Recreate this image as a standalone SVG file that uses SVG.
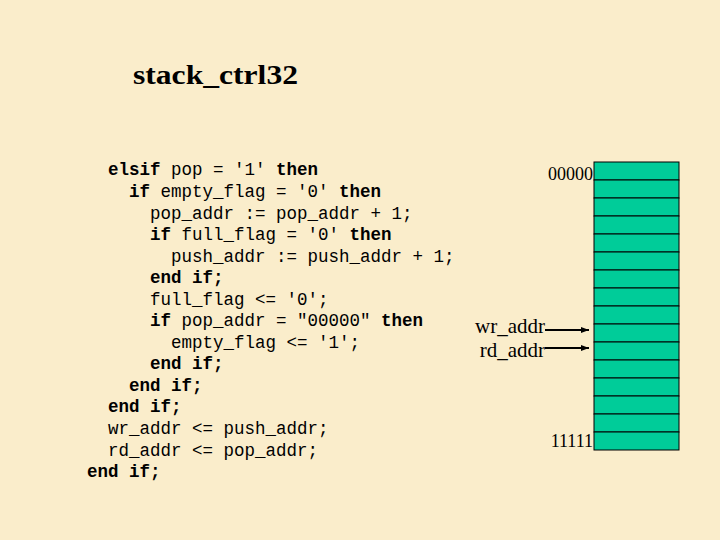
<svg xmlns="http://www.w3.org/2000/svg" width="720" height="540" viewBox="0 0 720 540">
<style>
.c{font-family:"Courier New","Liberation Mono",monospace;font-size:17.5px;fill:#000}
.s{font-family:"Liberation Serif",serif;fill:#000}
.cell{fill:#00CC99;stroke:#000;stroke-width:1}
</style>
<defs><marker id="ah" markerWidth="8" markerHeight="6" refX="8" refY="3" orient="auto" markerUnits="userSpaceOnUse"><path d="M0,0L8,3L0,6z" fill="#000"/></marker></defs>
<rect width="720" height="540" fill="#FAEDCB"/>
<text class="s" x="133" y="84" font-size="28" font-weight="bold" textLength="165" lengthAdjust="spacingAndGlyphs">stack_ctrl32</text>
<g id="code">
<text class="c" x="108" y="175"><tspan font-weight="bold">elsif</tspan> pop = '1' <tspan font-weight="bold">then</tspan></text>
<text class="c" x="129" y="197"><tspan font-weight="bold">if</tspan> empty_flag = '0' <tspan font-weight="bold">then</tspan></text>
<text class="c" x="150" y="219">pop_addr := pop_addr + 1;</text>
<text class="c" x="150" y="240"><tspan font-weight="bold">if</tspan> full_flag = '0' <tspan font-weight="bold">then</tspan></text>
<text class="c" x="171" y="262">push_addr := push_addr + 1;</text>
<text class="c" x="150" y="283" font-weight="bold">end if;</text>
<text class="c" x="150" y="305">full_flag &lt;= '0';</text>
<text class="c" x="150" y="326"><tspan font-weight="bold">if</tspan> pop_addr = "00000" <tspan font-weight="bold">then</tspan></text>
<text class="c" x="171" y="348">empty_flag &lt;= '1';</text>
<text class="c" x="150" y="369" font-weight="bold">end if;</text>
<text class="c" x="129" y="391" font-weight="bold">end if;</text>
<text class="c" x="108" y="412" font-weight="bold">end if;</text>
<text class="c" x="108" y="434">wr_addr &lt;= push_addr;</text>
<text class="c" x="108" y="456">rd_addr &lt;= pop_addr;</text>
<text class="c" x="87" y="477" font-weight="bold">end if;</text>
</g>
<g id="stack">
<rect class="cell" x="594" y="162" width="85" height="18"/>
<rect class="cell" x="594" y="180" width="85" height="18"/>
<rect class="cell" x="594" y="198" width="85" height="18"/>
<rect class="cell" x="594" y="216" width="85" height="18"/>
<rect class="cell" x="594" y="234" width="85" height="18"/>
<rect class="cell" x="594" y="252" width="85" height="18"/>
<rect class="cell" x="594" y="270" width="85" height="18"/>
<rect class="cell" x="594" y="288" width="85" height="18"/>
<rect class="cell" x="594" y="306" width="85" height="18"/>
<rect class="cell" x="594" y="324" width="85" height="18"/>
<rect class="cell" x="594" y="342" width="85" height="18"/>
<rect class="cell" x="594" y="360" width="85" height="18"/>
<rect class="cell" x="594" y="378" width="85" height="18"/>
<rect class="cell" x="594" y="396" width="85" height="18"/>
<rect class="cell" x="594" y="414" width="85" height="18"/>
<rect class="cell" x="594" y="432" width="85" height="18"/>
<text class="s" x="593" y="180" font-size="18" text-anchor="end">00000</text>
<text class="s" x="593" y="447" font-size="18" text-anchor="end">11111</text>
</g>
<g id="labels">
<text class="s" x="545" y="333" font-size="21" text-anchor="end">wr_addr</text>
<text class="s" x="545" y="357" font-size="21" text-anchor="end">rd_addr</text>
</g>
<g id="connectors" stroke="#000" stroke-width="2">
<line x1="545" y1="330" x2="589" y2="330" marker-end="url(#ah)"/>
<line x1="545" y1="348" x2="589" y2="348" marker-end="url(#ah)"/>
</g>
</svg>
